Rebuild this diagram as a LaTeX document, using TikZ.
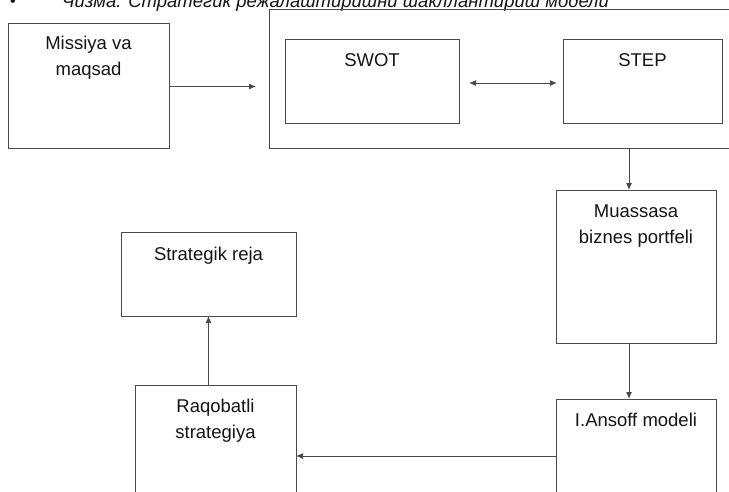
\documentclass[tikz,border=0pt]{standalone}
\usepackage{fontspec}
\setmainfont{Liberation Sans}
\usepackage{xcolor}
\usetikzlibrary{arrows.meta,calc}
\definecolor{edge}{HTML}{4A4A4A}
\definecolor{ink}{HTML}{141414}
\tikzset{
  box/.style={draw=edge, line width=1pt, inner sep=0pt, outer sep=0pt, anchor=north west},
  txt/.style={text=ink, font=\fontsize{18.5}{26}\selectfont, align=center, inner sep=0pt, anchor=base},
  ttl/.style={text=ink, font=\fontsize{18.5}{22}\selectfont\itshape, inner sep=0pt, anchor=base west},
  arr/.style={draw=edge, line width=1pt, -{Latex[length=7pt,width=6pt]}},
  darr/.style={draw=edge, line width=1pt, {Latex[length=7pt,width=6pt]}-{Latex[length=7pt,width=6pt]}},
}

\begin{document}
\begin{tikzpicture}[x=1pt,y=-1pt]
  \useasboundingbox (0,0) rectangle (729,491);
  \clip (0,0) rectangle (729,491);

  % cut-off caption at the top
  \node[ttl] (cap) at (62,7) {Чизма. Стратегик режалаштиришни шакллантириш модели};
  \node[text=ink, font=\fontsize{16}{16}\selectfont, inner sep=0pt, anchor=base] (bul) at (13,6) {•};

  % boxes
  \node[box, minimum width=161, minimum height=125] (mis) at (8,23) {};
  \node[box, minimum width=500, minimum height=139] (frame) at (269,9) {};
  \node[box, minimum width=174, minimum height=84] (swot) at (285,39) {};
  \node[box, minimum width=159, minimum height=84] (step) at (563,39) {};
  \node[box, minimum width=160, minimum height=153] (mua) at (556,190) {};
  \node[box, minimum width=160, minimum height=114] (ans) at (556,399) {};
  \node[box, minimum width=161, minimum height=142] (raq) at (135,385) {};
  \node[box, minimum width=175, minimum height=84] (strat) at (121,232) {};

  % texts (base = last line)
  \node[txt] (misT) at ([yshift=-52]mis.north) {Missiya va\\maqsad};
  \node[txt] (swotT) at ([yshift=-27]swot.north) {SWOT};
  \node[txt] (stepT) at ([yshift=-27]step.north) {STEP};
  \node[txt] (muaT) at ([yshift=-53]mua.north) {Muassasa\\biznes portfeli};
  \node[txt] (ansT) at ([yshift=-27]ans.north) {I.Ansoff modeli};
  \node[txt] (raqT) at ([yshift=-53]raq.north) {Raqobatli\\strategiya};
  \node[txt] (stratT) at ([yshift=-28]strat.north) {Strategik reja};

  % connectors
  \draw[arr, shorten >=13pt] ([yshift=-1]mis.east) -- ([yshift=-1]mis.east -| frame.west);
  \draw[darr, shorten <=10pt, shorten >=6pt] ([yshift=-2]swot.east) -- ([yshift=-2]step.west);
  \draw[arr] ([xshift=-7]mua.north |- frame.south) -- ([xshift=-7]mua.north);
  \draw[arr] ([xshift=-7]mua.south) -- ([xshift=-7]ans.north);
  \draw[arr] (ans.west) -- (raq.east);
  \draw[arr] (raq.north -| strat.south) -- (strat.south);
\end{tikzpicture}
\end{document}
